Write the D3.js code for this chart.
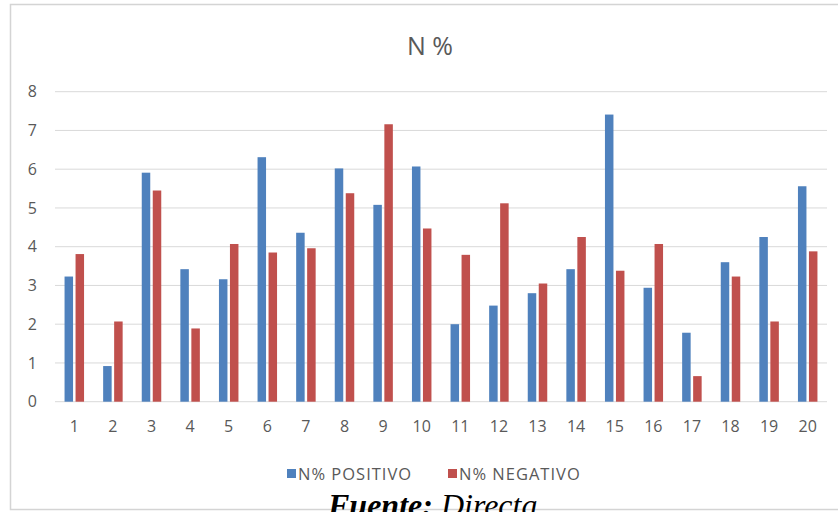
<!DOCTYPE html>
<html><head><meta charset="utf-8">
<script src="https://cdn.jsdelivr.net/npm/d3@7"></script>
<style>body{margin:0;background:#fff;overflow:hidden}svg{display:block}</style>
</head><body>
<script>
const categories = ["1","2","3","4","5","6","7","8","9","10","11","12","13","14","15","16","17","18","19","20"];
const positivo = [3.23,0.92,5.91,3.42,3.16,6.31,4.36,6.02,5.08,6.07,2.00,2.48,2.80,3.42,7.41,2.94,1.78,3.60,4.25,5.56];
const negativo = [3.81,2.07,5.45,1.89,4.07,3.85,3.96,5.38,7.16,4.47,3.79,5.12,3.05,4.25,3.38,4.07,0.66,3.23,2.07,3.88];
const seriesNames = ["N% POSITIVO","N% NEGATIVO"];
const yTicks = [0,1,2,3,4,5,6,7,8];
const title = "N %";

const W=838,H=512;
const svg=d3.select("body").append("svg").attr("width",W).attr("height",H);
// outer frame
svg.append("rect").attr("x",10.5).attr("y",4.5).attr("width",840).attr("height",505)
  .attr("fill","#fff").attr("stroke","#d4d4d4").attr("stroke-width",1.5);

const pLeft=55,pRight=827,pTop=91.7,pBottom=401.7;
const x=d3.scaleBand().domain(categories).range([pLeft,pRight]);
const y=d3.scaleLinear().domain([0,8]).range([pBottom,pTop]);
const colors=["#4F81BD","#C0504D"];
const barW=8.5,gap=2.5;
const font="'Open Sans',sans-serif";

// gridlines
svg.append("g").selectAll("line").data(yTicks).join("line")
  .attr("x1",pLeft).attr("x2",pRight).attr("y1",d=>y(d)).attr("y2",d=>y(d))
  .attr("stroke","#d9d9d9").attr("stroke-width",1);

// y axis labels
const ya=d3.axisLeft(y).tickValues(yTicks).tickSize(0).tickPadding(0);
const yg=svg.append("g").attr("transform",`translate(37,0)`).call(ya);
yg.select(".domain").remove();
yg.selectAll("text").attr("fill","#595959").style("font-family",font).style("font-size","16px");

// x axis labels
const xa=d3.axisBottom(x).tickSize(0).tickPadding(0);
const xg=svg.append("g").attr("transform",`translate(0,${pBottom+19})`).call(xa);
xg.select(".domain").remove();
xg.selectAll("text").attr("fill","#595959").style("font-family",font).style("font-size","16px");

// bars
const data=categories.map((c,i)=>({c,v:[positivo[i],negativo[i]]}));
[0,1].forEach(s=>{
  svg.append("g").selectAll("rect").data(data).join("rect")
    .attr("x",d=>x(d.c)+x.bandwidth()/2+(s===0?-(barW+gap/2):gap/2))
    .attr("y",d=>y(d.v[s])).attr("width",barW)
    .attr("height",d=>y(0)-y(d.v[s])).attr("fill",colors[s]);
});

// title
svg.append("text").attr("x",430).attr("y",55).attr("text-anchor","middle")
  .attr("fill","#595959").style("font-family",font).style("font-size","25px").text(title);

// legend
const lg=svg.append("g").style("font-family",font).style("font-size","16.5px").style("letter-spacing","1px");
const lx=[287,448];
seriesNames.forEach((n,i)=>{
  lg.append("rect").attr("x",lx[i]).attr("y",469).attr("width",9).attr("height",9).attr("fill",colors[i]);
  lg.append("text").attr("x",lx[i]+11).attr("y",480).attr("fill","#595959").text(n);
});

// source caption
const ft=svg.append("text").attr("x",328).attr("y",516).style("font-family","'Liberation Serif','Times New Roman',serif").style("font-size","32px").attr("fill","#000");
ft.append("tspan").style("font-weight","bold").style("font-style","italic").text("Fuente:");
ft.append("tspan").style("font-style","italic").text(" Directa");
</script>
</body></html>
